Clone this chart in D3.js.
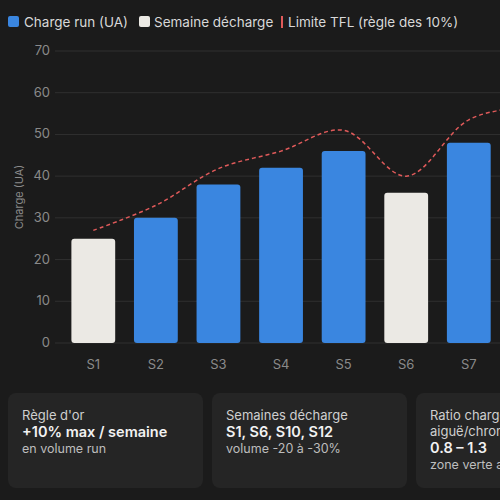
<!DOCTYPE html><html><head><meta charset="utf-8"><script src="https://cdn.jsdelivr.net/npm/d3@7"></script>
<style>body{margin:0;background:#1b1b1b;overflow:hidden;width:500px;height:500px;font-family:Inter,sans-serif}</style></head><body><svg id="c" width="900" height="500"></svg>
<script>
const weeks=["S1","S2","S3","S4","S5","S6","S7","S8","S9","S10","S11","S12"];
const charge=[25,30,38,42,46,36,48,52,56,44,58,45];
const deload=[true,false,false,false,false,true,false,false,false,true,false,true];
const limit=[27,33,41.8,46,51,40,53.5,57.2,61.6,48.4,63.8,49.5];
const yTicks=[0,10,20,30,40,50,60,70];
const svg=d3.select("#c");
const x=d3.scaleBand().domain(weeks).range([62,813]).paddingInner(0.3).paddingOuter(0.15);
const y=d3.scaleLinear().domain([0,70]).range([343,51]);
const g=svg.append("g");
yTicks.forEach(t=>{g.append("line").attr("x1",55).attr("x2",900).attr("y1",y(t)).attr("y2",y(t)).attr("stroke","#303030");
g.append("text").attr("x",50).attr("y",y(t)+4).attr("text-anchor","end").attr("fill","#8a8a8a").attr("font-size",13).text(t);});
svg.append("text").attr("transform","translate(23,197) rotate(-90)").attr("text-anchor","middle").attr("fill","#8a8a8a").attr("font-size",11).text("Charge (UA)");
svg.selectAll("rect.b").data(weeks).join("rect").attr("x",d=>x(d)).attr("width",x.bandwidth()).attr("y",(d,i)=>y(charge[i])).attr("height",(d,i)=>y(0)-y(charge[i])).attr("rx",3)
 .attr("fill",(d,i)=>deload[i]?"#ebe9e4":"#3a86e0");
svg.selectAll("text.xl").data(weeks).join("text").attr("x",d=>x(d)+x.bandwidth()/2).attr("y",369).attr("text-anchor","middle").attr("fill","#8a8a8a").attr("font-size",13).text(d=>d);
const line=d3.line().x((d,i)=>x(weeks[i])+x.bandwidth()/2).y(d=>y(d)).curve(d3.curveCatmullRom);
svg.append("path").attr("d",line(limit)).attr("fill","none").attr("stroke","#e05a5a").attr("stroke-width",1.5).attr("stroke-dasharray","4,3");
// legend
const L=svg.append("g").attr("font-size",13.5).attr("fill","#d8d8d8");
L.append("rect").attr("x",8).attr("y",16).attr("width",11).attr("height",11).attr("rx",2).attr("fill","#3a86e0");
L.append("text").attr("x",24).attr("y",27).attr("fill","#d8d8d8").text("Charge run (UA)");
L.append("rect").attr("x",139).attr("y",16).attr("width",11).attr("height",11).attr("rx",2).attr("fill","#ebe9e4");
L.append("text").attr("x",154).attr("y",27).attr("fill","#d8d8d8").text("Semaine décharge");
L.append("rect").attr("x",281).attr("y",16).attr("width",2).attr("height",12).attr("fill","#e05a5a");
L.append("text").attr("x",288).attr("y",27).attr("fill","#d8d8d8").text("Limite TFL (règle des 10%)");
// cards
const cards=[{t:["Règle d'or"],v:"+10% max / semaine",s:"en volume run"},{t:["Semaines décharge"],v:"S1, S6, S10, S12",s:"volume -20 à -30%"},{t:["Ratio charge","aiguë/chronique"],v:"0.8 – 1.3",s:"zone verte a"}];
cards.forEach((c,i)=>{const x0=8+i*204;const cg=svg.append("g");
cg.append("rect").attr("x",x0).attr("y",393).attr("width",195).attr("height",95).attr("rx",8).attr("fill","#252525");
let yy=420;c.t.forEach(t=>{cg.append("text").attr("x",x0+14).attr("y",yy).attr("fill","#cfcfcf").attr("font-size",13).text(t);yy+=16;});
cg.append("text").attr("x",x0+14).attr("y",yy+1).attr("fill","#f2f2f2").attr("font-size",14.5).attr("font-weight",600).text(c.v);
cg.append("text").attr("x",x0+14).attr("y",yy+17).attr("fill","#bdbdbd").attr("font-size",12.5).text(c.s);});
</script></body></html>
